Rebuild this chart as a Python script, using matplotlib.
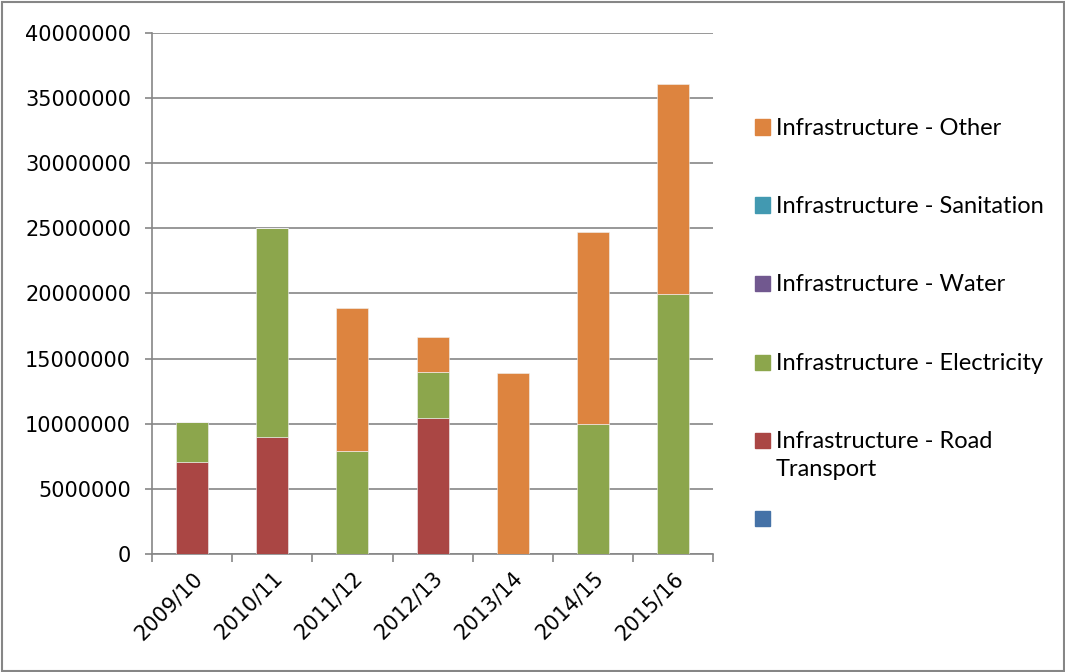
import matplotlib.pyplot as plt
import matplotlib.patches as mpatches
import numpy as np

years = ['2009/10', '2010/11', '2011/12', '2012/13', '2013/14', '2014/15', '2015/16']
blank = [0, 0, 0, 0, 0, 0, 0]
road = [7100000, 9000000, 0, 10450000, 0, 0, 0]
electricity = [3000000, 16000000, 7900000, 3500000, 0, 9950000, 19950000]
water = [0, 0, 0, 0, 0, 0, 0]
sanitation = [0, 0, 0, 0, 0, 0, 0]
other = [0, 0, 10950000, 2700000, 13900000, 14800000, 16100000]

series = [
    ('', blank, '#4572A7'),
    ('Infrastructure - Road\nTransport', road, '#AA4644'),
    ('Infrastructure - Electricity', electricity, '#8CA64C'),
    ('Infrastructure - Water', water, '#71588F'),
    ('Infrastructure - Sanitation', sanitation, '#4299B1'),
    ('Infrastructure - Other', other, '#DD843F'),
]

fig = plt.figure(figsize=(10.65, 6.72), dpi=100)
ax = fig.add_axes([0.1427, 0.1756, 0.527, 0.7753])

x = np.arange(len(years))
bottom = np.zeros(len(years))
for name, vals, col in series:
    v = np.array(vals, dtype=float)
    ax.bar(x, v, 0.4, bottom=bottom, color=col, edgecolor='#F2F2F2', linewidth=0.4, zorder=3)
    bottom += v

grey = '#868686'
ax.set_ylim(0, 40000000)
ax.set_xlim(-0.5, len(years) - 0.5)
ax.set_yticks(np.arange(0, 40000001, 5000000))
ax.set_yticklabels([str(int(t)) for t in np.arange(0, 40000001, 5000000)])
ax.yaxis.grid(True, color=grey, linewidth=1.2, zorder=0)
ax.set_axisbelow(True)

ax.set_xticks(np.arange(-0.5, len(years)), labels=[])
ax.set_xticks(x, labels=years, minor=True)
ax.tick_params(axis='x', which='major', length=6, width=1.2, color=grey, direction='out')
ax.tick_params(axis='x', which='minor', length=0, pad=10)
ax.tick_params(axis='y', length=5, width=1.2, color=grey, direction='out', pad=10)
for lab in ax.get_xticklabels(minor=True):
    lab.set_rotation(45)
    lab.set_ha('right')
    lab.set_rotation_mode('anchor')
    lab.set_fontsize(15)
for lab in ax.get_yticklabels():
    lab.set_fontsize(15)

for s in ['top', 'right']:
    ax.spines[s].set_visible(False)
for s in ['left', 'bottom']:
    ax.spines[s].set_color(grey)
    ax.spines[s].set_linewidth(1.2)

# legend drawn by hand, Excel style
leg_y = [127, 205, 283, 362, 440, 518]
for (name, vals, col), yy in zip(series[::-1], leg_y):
    fy = 1 - yy / 672
    fig.patches.append(mpatches.Rectangle((755 / 1065, fy - 7.5 / 672), 15 / 1065, 15 / 672,
                                          transform=fig.transFigure, color=col))
    if name:
        fig.text(776 / 1065, fy + 9 / 672, name, fontsize=17, family='Lato',
                 va='top', ha='left', linespacing=1.4)

fig.patches.append(mpatches.Rectangle((1.5 / 1065, 1.5 / 672), 1 - 3 / 1065, 1 - 3 / 672,
                                      transform=fig.transFigure, fill=False,
                                      edgecolor=grey, linewidth=1.5))

fig.savefig('out.png', dpi=100)
